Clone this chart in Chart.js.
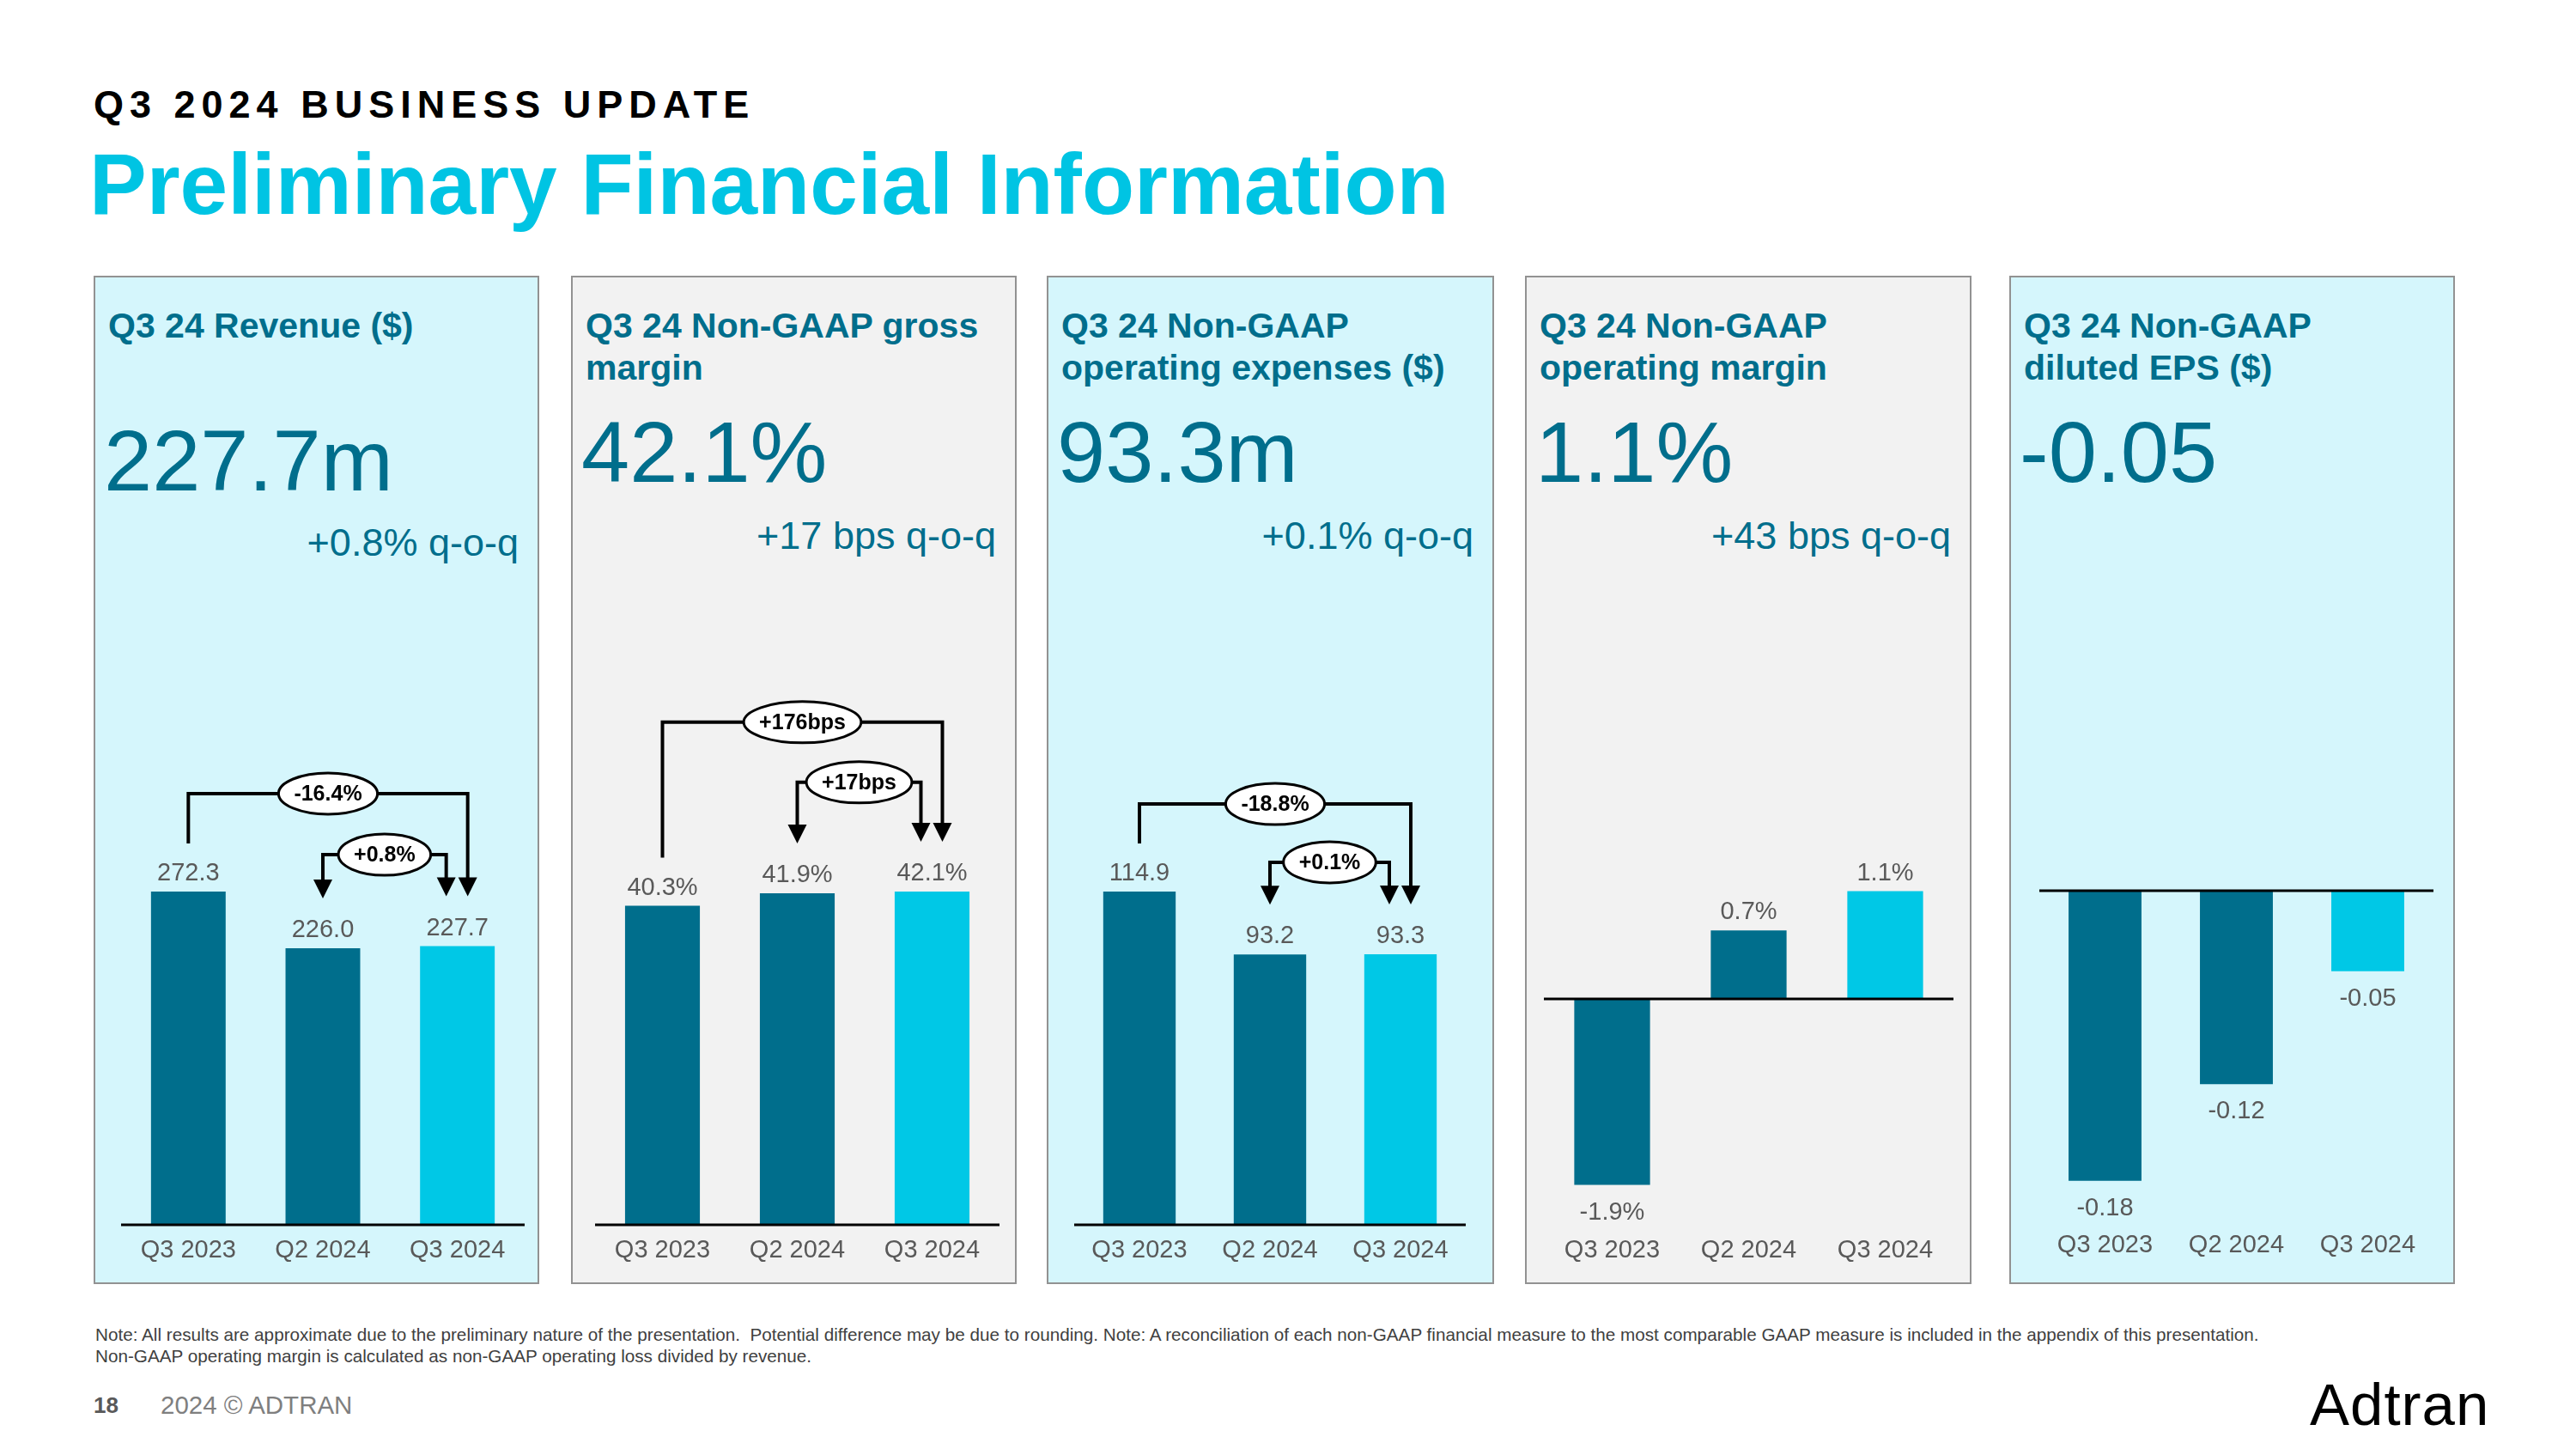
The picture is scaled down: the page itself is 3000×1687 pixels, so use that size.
<!DOCTYPE html>
<html><head><meta charset="utf-8">
<script src="https://cdn.jsdelivr.net/npm/chart.js@4.4.1/dist/chart.umd.min.js"></script>
<style>
html,body{margin:0;padding:0;background:#fff;}
body{width:3000px;height:1687px;position:relative;overflow:hidden;font-family:'Liberation Sans',Arial,sans-serif;}
.abs{position:absolute;white-space:nowrap;}
.panel{position:absolute;top:321px;height:1174px;box-sizing:border-box;border:2px solid #929292;}
.cyan{background:#d5f6fc;}
.gray{background:#f2f2f2;}
.ptitle{position:absolute;top:32px;left:15px;font-weight:bold;font-size:41px;line-height:49px;color:#006e8c;white-space:nowrap;}
.pvalue{position:absolute;left:10px;font-size:101px;line-height:101px;color:#006e8c;white-space:nowrap;}
.psub{position:absolute;right:22px;font-size:45px;line-height:45px;color:#006e8c;white-space:nowrap;}
canvas{position:absolute;}
</style></head><body>

<div class="abs" style="left:109px;top:99px;font-size:45px;line-height:45px;font-weight:bold;letter-spacing:7px;color:#000;">Q3 2024 BUSINESS UPDATE</div>
<div class="abs" style="left:104px;top:164px;font-size:100px;line-height:100px;font-weight:bold;color:#00c4e3;">Preliminary Financial Information</div>

<div class="panel cyan" style="left:109px;width:519px;">
  <div class="ptitle">Q3 24 Revenue ($)</div>
  <div class="pvalue" style="top:163px;">227.7m</div>
  <div class="psub" style="top:286px;">+0.8% q-o-q</div>
</div>
<div class="panel gray" style="left:665px;width:519px;">
  <div class="ptitle">Q3 24 Non-GAAP gross<br>margin</div>
  <div class="pvalue" style="top:153px;">42.1%</div>
  <div class="psub" style="top:278px;">+17 bps q-o-q</div>
</div>
<div class="panel cyan" style="left:1219px;width:521px;">
  <div class="ptitle">Q3 24 Non-GAAP<br>operating expenses ($)</div>
  <div class="pvalue" style="top:153px;">93.3m</div>
  <div class="psub" style="top:278px;">+0.1% q-o-q</div>
</div>
<div class="panel gray" style="left:1776px;width:520px;">
  <div class="ptitle">Q3 24 Non-GAAP<br>operating margin</div>
  <div class="pvalue" style="top:153px;">1.1%</div>
  <div class="psub" style="top:278px;">+43 bps q-o-q</div>
</div>
<div class="panel cyan" style="left:2340px;width:519px;">
  <div class="ptitle">Q3 24 Non-GAAP<br>diluted EPS ($)</div>
  <div class="pvalue" style="top:153px;">-0.05</div>
</div>

<canvas id="c1" width="470" height="686" style="left:141px;top:800px;"></canvas>
<canvas id="c2" width="471" height="686" style="left:693px;top:800px;"></canvas>
<canvas id="c3" width="456" height="686" style="left:1251px;top:800px;"></canvas>
<canvas id="c4" width="477" height="586" style="left:1798px;top:900px;"></canvas>
<canvas id="c5" width="459" height="580" style="left:2375px;top:900px;"></canvas>

<div class="abs" style="left:111px;top:1541px;font-size:20.7px;line-height:25px;color:#404040;">Note: All results are approximate due to the preliminary nature of the presentation.&nbsp; Potential difference may be due to rounding. Note: A reconciliation of each non-GAAP financial measure to the most comparable GAAP measure is included in the appendix of this presentation.<br>Non-GAAP operating margin is calculated as non-GAAP operating loss divided by revenue.</div>
<div class="abs" style="left:109px;top:1623px;font-size:26px;line-height:26px;font-weight:bold;color:#595959;">18</div>
<div class="abs" style="left:187px;top:1621px;font-size:29.5px;line-height:29.5px;color:#7f7f7f;">2024 © ADTRAN</div>
<div class="abs" style="left:2690px;top:1601px;font-size:69px;line-height:69px;color:#000;letter-spacing:1px;">Adtran</div>

<script>
const categories = ['Q3 2023', 'Q2 2024', 'Q3 2024'];
const revenue = [272.3, 226.0, 227.7];
const grossMargin = [40.3, 41.9, 42.1];
const opex = [114.9, 93.2, 93.3];
const opMargin = [-1.9, 0.7, 1.1];
const eps = [-0.18, -0.12, -0.05];
const barColors = ['#006e8c', '#006e8c', '#00c8e6'];

const revenueChanges = [
  {from: 0, to: 2, label: '-16.4%', level: 352.3, fromArrow: false, toOff: 12},
  {from: 1, to: 2, label: '+0.8%', level: 302.4, fromArrow: true, toOff: -13}
];
const marginChanges = [
  {from: 0, to: 2, label: '+176bps', level: 63.5, fromArrow: false, toOff: 12},
  {from: 1, to: 2, label: '+17bps', level: 55.9, fromArrow: true, toOff: -13}
];
const opexChanges = [
  {from: 0, to: 2, label: '-18.8%', level: 145.1, fromArrow: false, toOff: 12},
  {from: 1, to: 2, label: '+0.1%', level: 125.0, fromArrow: true, toOff: -13}
];

const FONT = "'Liberation Sans', Arial, sans-serif";

function valueLabels(fmt) {
  return {
    id: 'valueLabels',
    afterDatasetsDraw(chart) {
      const ctx = chart.ctx;
      const meta = chart.getDatasetMeta(0);
      const data = chart.data.datasets[0].data;
      ctx.save();
      ctx.font = '29px ' + FONT;
      ctx.fillStyle = '#595959';
      ctx.textAlign = 'center';
      ctx.textBaseline = 'alphabetic';
      meta.data.forEach((el, i) => {
        const v = data[i];
        if (v >= 0) ctx.fillText(fmt(v), el.x, el.y - 13);
        else ctx.fillText(fmt(v), el.x, el.y + 40);
      });
      ctx.restore();
    }
  };
}

const zeroLine = {
  id: 'zeroLine',
  afterDatasetsDraw(chart) {
    const ctx = chart.ctx, a = chart.chartArea;
    const y = chart.scales.y.getPixelForValue(0);
    ctx.save();
    ctx.strokeStyle = '#000';
    ctx.lineWidth = 3;
    ctx.beginPath();
    ctx.moveTo(a.left, y);
    ctx.lineTo(a.right, y);
    ctx.stroke();
    ctx.restore();
  }
};

function brackets(list) {
  return {
    id: 'brackets',
    afterDraw(chart) {
      if (!list.length) return;
      const ctx = chart.ctx, ys = chart.scales.y, meta = chart.getDatasetMeta(0);
      const ah = 22, aw = 11;
      ctx.save();
      const tri = (x, y) => {
        ctx.fillStyle = '#000';
        ctx.beginPath();
        ctx.moveTo(x - aw, y - ah);
        ctx.lineTo(x + aw, y - ah);
        ctx.lineTo(x, y);
        ctx.closePath();
        ctx.fill();
      };
      list.forEach(b => {
        const xa = meta.data[b.from].x + (b.fromOff || 0);
        const xb = meta.data[b.to].x + (b.toOff || 0);
        const ly = ys.getPixelForValue(b.level);
        const ya = meta.data[b.from].y - (b.fromArrow ? 58 : 56);
        const yb = meta.data[b.to].y - 58;
        ctx.strokeStyle = '#000';
        ctx.lineWidth = 4;
        ctx.lineJoin = 'miter';
        ctx.beginPath();
        ctx.moveTo(xa, b.fromArrow ? ya - ah + 2 : ya);
        ctx.lineTo(xa, ly);
        ctx.lineTo(xb, ly);
        ctx.lineTo(xb, yb - ah + 2);
        ctx.stroke();
        if (b.fromArrow) tri(xa, ya);
        tri(xb, yb);
        ctx.font = 'bold 25px ' + FONT;
        const tw = ctx.measureText(b.label).width;
        const cx = (xa + xb) / 2;
        ctx.beginPath();
        ctx.ellipse(cx, ly, tw / 2 + 18, 24, 0, 0, Math.PI * 2);
        ctx.fillStyle = '#fff';
        ctx.fill();
        ctx.lineWidth = 3;
        ctx.stroke();
        ctx.fillStyle = '#000';
        ctx.textAlign = 'center';
        ctx.textBaseline = 'middle';
        ctx.fillText(b.label, cx, ly + 1);
      });
      ctx.restore();
    }
  };
}

function makeChart(id, values, yMin, yMax, fmt, changes) {
  return new Chart(document.getElementById(id), {
    type: 'bar',
    data: {
      labels: categories,
      datasets: [{
        data: values,
        backgroundColor: barColors,
        borderWidth: 0,
        barPercentage: 0.555,
        categoryPercentage: 1
      }]
    },
    options: {
      responsive: false,
      maintainAspectRatio: false,
      animation: false,
      layout: {padding: 0},
      plugins: {legend: {display: false}, tooltip: {enabled: false}},
      scales: {
        x: {
          grid: {display: false, drawTicks: false},
          border: {display: false},
          ticks: {padding: 13, color: '#595959', font: {family: FONT, size: 29}},
          afterFit: (s) => { s.height = 60; }
        },
        y: {display: false, min: yMin, max: yMax}
      }
    },
    plugins: [zeroLine, valueLabels(fmt), brackets(changes)]
  });
}

makeChart('c1', revenue, 0, 439.3, v => v.toFixed(1), revenueChanges);
makeChart('c2', grossMargin, 0, 67.93, v => v.toFixed(1) + '%', marginChanges);
makeChart('c3', opex, 0, 185.4, v => v.toFixed(1), opexChanges);
makeChart('c4', opMargin, -2.307, 2.307, v => v.toFixed(1) + '%', []);
makeChart('c5', eps, -0.2041, 0.0730, v => v.toFixed(2), []);
</script>
</body></html>
